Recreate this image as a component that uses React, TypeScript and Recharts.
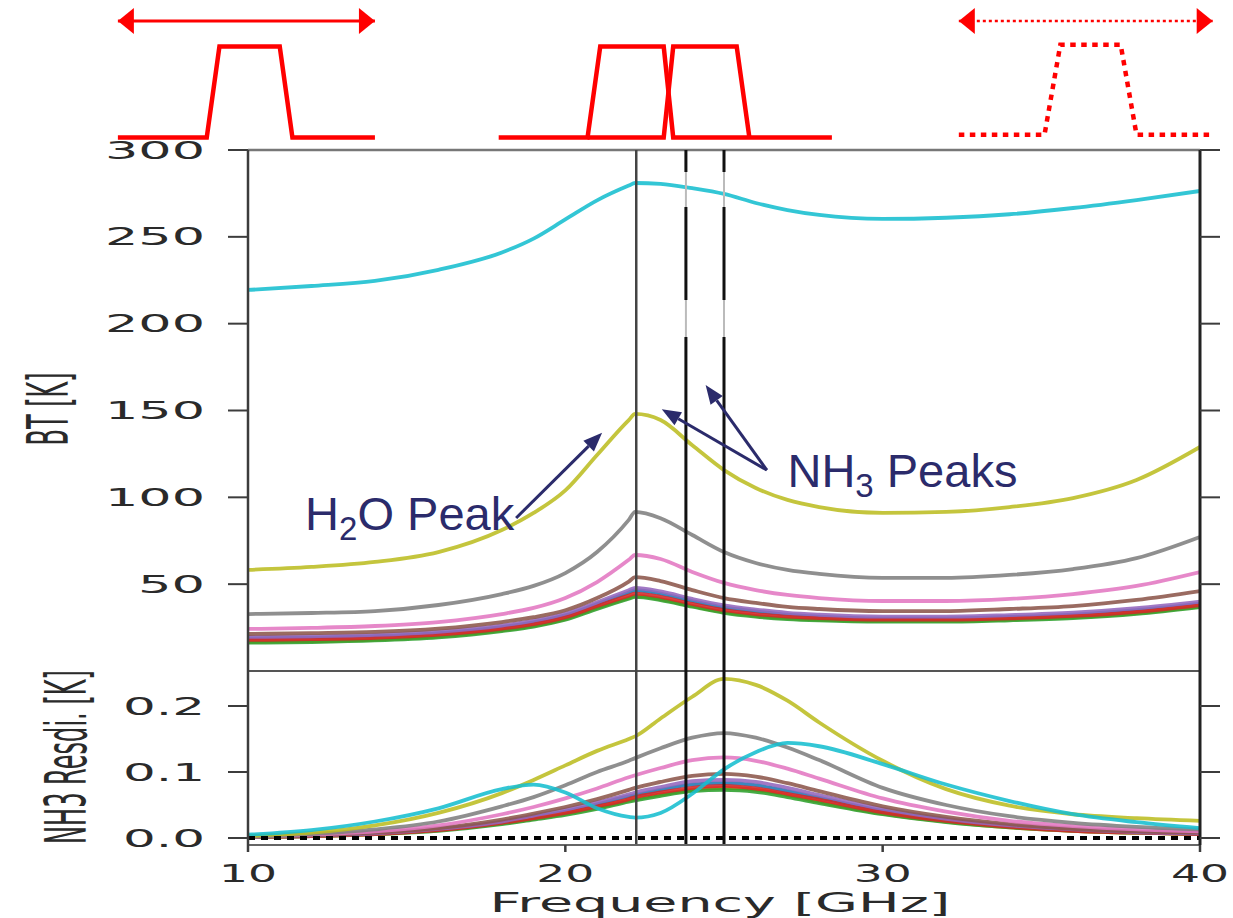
import React from 'react';
import { LineChart, Line, XAxis, YAxis, ReferenceLine, ReferenceDot } from 'recharts';

// ---------- data ----------
const FREQ = [10, 12, 14, 16, 18, 19, 20, 21, 22, 22.2, 23, 24, 25, 26, 27, 28, 30, 32, 34, 36, 38, 40];

const BT_BLUE = [18.8, 19.2, 20, 21.8, 25.3, 28, 32, 38.5, 45.2, 46.5, 44.6, 40.3, 36.6, 34.3, 32.4, 31.3, 30.3, 30.3, 31.1, 32.5, 35, 38.8];
const BT_ORANGE = [16.8, 17.2, 18.1, 19.9, 23.5, 26.1, 30, 36.4, 42.2, 43.3, 41.4, 37.5, 34, 31.8, 30.4, 29.6, 28.9, 28.9, 29.7, 31, 33.4, 37.3];
const BT_GREEN = [16.3, 16.7, 17.6, 19.4, 23, 25.6, 29.5, 35.8, 41.6, 42.7, 40.8, 37, 33.5, 31.3, 29.9, 29.1, 28.4, 28.4, 29.2, 30.5, 32.9, 36.8];
const BT_RED = [17.9, 18.3, 19.1, 20.9, 24.4, 27, 31, 37.4, 43.4, 44.5, 42.7, 38.6, 35, 32.8, 31.3, 30.5, 29.6, 29.6, 30.3, 31.7, 34.1, 38];
const BT_PURPLE = [19.6, 20, 20.8, 22.6, 26.2, 29, 33, 39.5, 46.5, 47.8, 45.8, 41.5, 37.8, 35.4, 33.5, 32.4, 31.3, 31.3, 32.2, 33.6, 36.2, 40];
const BT_BROWN = [21.3, 21.8, 22.5, 24.4, 28.2, 31, 35, 42, 51.5, 54, 51.8, 46.6, 42, 39.2, 36.9, 35.7, 34.5, 34.5, 35.7, 37.4, 40.9, 46];
const BT_PINK = [24.2, 24.8, 25.9, 28.2, 32.8, 36.3, 42, 51.2, 64, 66.8, 64.5, 57, 50.7, 46.6, 43.8, 42, 40.3, 40.3, 41.5, 44.3, 49, 57];
const BT_GRAY = [32.8, 33.4, 34.5, 38, 44.3, 49, 56.4, 68.5, 87, 91.6, 88, 78.3, 68.5, 62.2, 58.2, 55.9, 53.6, 53.6, 55.3, 58.7, 65, 77.2];
const BT_OLIVE = [58.2, 59.9, 62.8, 68.5, 81.2, 91, 104, 124.4, 144.5, 148, 144.5, 130, 115.7, 105.4, 98.5, 94.4, 91, 91.6, 94.4, 99.6, 110, 129];
const BT_CYAN = [219.4, 221.7, 224.6, 231, 241, 249, 260, 271, 279.5, 281, 280.5, 278, 274.7, 269.5, 265.4, 262.6, 260.3, 261, 263, 266.6, 271.2, 276.4];

const RES_BLUE = [0.002, 0.003, 0.007, 0.013, 0.024, 0.032, 0.040, 0.051, 0.063, 0.065, 0.073, 0.081, 0.083, 0.080, 0.071, 0.061, 0.041, 0.028, 0.018, 0.012, 0.009, 0.007];
const RES_ORANGE = [0.002, 0.003, 0.006, 0.012, 0.022, 0.029, 0.037, 0.046, 0.057, 0.059, 0.066, 0.073, 0.076, 0.073, 0.065, 0.055, 0.037, 0.025, 0.016, 0.011, 0.008, 0.006];
const RES_GREEN = [0.002, 0.003, 0.006, 0.011, 0.021, 0.028, 0.035, 0.044, 0.055, 0.057, 0.064, 0.071, 0.073, 0.070, 0.062, 0.053, 0.036, 0.024, 0.016, 0.011, 0.008, 0.006];
const RES_RED = [0.002, 0.003, 0.006, 0.012, 0.023, 0.030, 0.038, 0.048, 0.059, 0.062, 0.069, 0.076, 0.079, 0.075, 0.067, 0.058, 0.039, 0.026, 0.017, 0.011, 0.008, 0.006];
const RES_PURPLE = [0.002, 0.004, 0.007, 0.014, 0.025, 0.034, 0.043, 0.054, 0.066, 0.069, 0.077, 0.086, 0.088, 0.085, 0.076, 0.065, 0.044, 0.029, 0.019, 0.013, 0.009, 0.007];
const RES_BROWN = [0.002, 0.004, 0.008, 0.015, 0.028, 0.037, 0.047, 0.059, 0.073, 0.076, 0.085, 0.094, 0.097, 0.093, 0.083, 0.071, 0.048, 0.032, 0.021, 0.014, 0.010, 0.008];
const RES_PINK = [0.002, 0.005, 0.010, 0.019, 0.036, 0.047, 0.060, 0.075, 0.092, 0.095, 0.106, 0.118, 0.122, 0.117, 0.105, 0.090, 0.060, 0.040, 0.026, 0.018, 0.013, 0.010];
const RES_GRAY = [0.002, 0.006, 0.013, 0.025, 0.048, 0.062, 0.080, 0.100, 0.117, 0.121, 0.136, 0.152, 0.159, 0.152, 0.137, 0.118, 0.076, 0.050, 0.033, 0.023, 0.017, 0.013];
const RES_OLIVE = [0.003, 0.008, 0.019, 0.038, 0.068, 0.088, 0.110, 0.132, 0.150, 0.154, 0.181, 0.214, 0.241, 0.232, 0.208, 0.175, 0.117, 0.074, 0.049, 0.036, 0.030, 0.026];
const RES_CYAN = [0.005, 0.012, 0.025, 0.045, 0.074, 0.081, 0.069, 0.045, 0.032, 0.031, 0.038, 0.067, 0.104, 0.130, 0.144, 0.139, 0.112, 0.081, 0.056, 0.036, 0.024, 0.015];

const BT_TICKS = [50, 100, 150, 200, 250, 300];
const RES_TICKS = [0, 0.1, 0.2];
const X_TICKS = [10, 20, 30, 40];
const LINE_FREQS = [22.235, 23.8, 25.0]; // H2O line, two NH3 lines

// passband schematic (frequency-like units, relative response)
const SCH_LEFT_F = [5.9, 8.7, 9.1, 11.0, 11.4, 14.0];
const SCH_LEFT_R = [0, 0, 1, 1, 0, 0];
const SCH_MID_A_F = [17.9, 20.7, 21.1, 23.1, 23.4, 28.4];
const SCH_MID_A_R = [0, 0, 1, 1, 0, 0];
const SCH_MID_B_F = [20.7, 23.1, 23.4, 25.4, 25.8];
const SCH_MID_B_R = [0, 0, 1, 1, 0];
const SCH_RIGHT_F = [32.4, 35.1, 35.6, 37.5, 38.0, 40.4];
const SCH_RIGHT_R = [0.03, 0.03, 1.02, 1.02, 0.03, 0.03];
const SCH_ARROW_LEFT_F = [5.9, 14.0];
const SCH_ARROW_RIGHT_F = [32.4, 40.4];
const SCH_ARROW_R = 1.28;

// annotations (data coordinates: GHz, K)
const H2O_TEXT_AT = { f: 11.8, bt: 81 };
const NH3_TEXT_AT = { f: 27.0, bt: 106 };
const H2O_ARROW = [{ x: 18.45, y: 88.1 }, { x: 21.16, y: 137.2 }];
const NH3_ARROW_1 = [{ x: 26.35, y: 115.7 }, { x: 23.04, y: 150.7 }];
const NH3_ARROW_2 = [{ x: 26.35, y: 115.7 }, { x: 24.42, y: 164.7 }];

// ---------- styling ----------
const SERIES = [
  { key: 'blue', color: '#1f77b4', bt: BT_BLUE, res: RES_BLUE },
  { key: 'orange', color: '#ff7f0e', bt: BT_ORANGE, res: RES_ORANGE },
  { key: 'green', color: '#2ca02c', bt: BT_GREEN, res: RES_GREEN },
  { key: 'red', color: '#d62728', bt: BT_RED, res: RES_RED },
  { key: 'purple', color: '#9467bd', bt: BT_PURPLE, res: RES_PURPLE },
  { key: 'brown', color: '#8c564b', bt: BT_BROWN, res: RES_BROWN },
  { key: 'pink', color: '#e377c2', bt: BT_PINK, res: RES_PINK },
  { key: 'gray', color: '#7f7f7f', bt: BT_GRAY, res: RES_GRAY },
  { key: 'olive', color: '#bcbd22', bt: BT_OLIVE, res: RES_OLIVE },
  { key: 'cyan', color: '#17becf', bt: BT_CYAN, res: RES_CYAN },
];

const topRows = FREQ.map((f, i) => {
  const r: any = { f };
  SERIES.forEach((s) => { r[s.key] = s.bt[i]; });
  return r;
});
const botRows = FREQ.map((f, i) => {
  const r: any = { f };
  SERIES.forEach((s) => { r[s.key] = s.res[i]; });
  return r;
});

// schematic rows: one table, each shape in its own column
const SCH_SHAPES: [string, number[], number[]][] = [
  ['left', SCH_LEFT_F, SCH_LEFT_R],
  ['midA', SCH_MID_A_F, SCH_MID_A_R],
  ['midB', SCH_MID_B_F, SCH_MID_B_R],
  ['right', SCH_RIGHT_F, SCH_RIGHT_R],
  ['arrL', SCH_ARROW_LEFT_F, SCH_ARROW_LEFT_F.map(() => SCH_ARROW_R)],
  ['arrR', SCH_ARROW_RIGHT_F, SCH_ARROW_RIGHT_F.map(() => SCH_ARROW_R)],
];
const schRows: any[] = [];
SCH_SHAPES.forEach(([k, fs, rs]) => fs.forEach((f, i) => schRows.push({ f, [k]: rs[i] })));
schRows.sort((a, b) => a.f - b.f);

const NAVY = '#2b2b6b';
const AXIS = '#3c3c3c';
const TXT = '#2a2a2a';
const RED = '#ff0000';
const FONT = 'DejaVu Sans';

const YTick = (props: any) => {
  const { x, y, payload, fmt, lens } = props;
  const s = fmt(payload.value);
  return (
    <text x={x} y={y} dy="0.36em" textAnchor="end" fontFamily={FONT} fontSize={24} fill={TXT}
      textLength={lens[s.length] || 100} lengthAdjust="spacingAndGlyphs">{s}</text>
  );
};

const XTick = (props: any) => {
  const { x, y, payload } = props;
  return (
    <text x={x} y={y + 28} textAnchor="middle" fontFamily={FONT} fontSize={24} fill={TXT}
      textLength={58} lengthAdjust="spacingAndGlyphs">{String(payload.value)}</text>
  );
};

const NoTick = () => <g />;

const RotTitle = ({ tx, ty, text, len }: any) => (
  <g transform={`translate(${tx},${ty})`}>
    <g transform="rotate(-90)">
      <g transform="scale(1,2.4)">
        <text x={0} y={0} textAnchor="middle" fontFamily={FONT} fontSize={24} fill={TXT}
          textLength={len} lengthAdjust="spacingAndGlyphs">{text}</text>
      </g>
    </g>
  </g>
);

const XTitle = () => (
  <text x={720} y={252} textAnchor="middle" fontFamily={FONT} fontSize={26} fill={TXT}
    textLength={461} lengthAdjust="spacingAndGlyphs">Frequency [GHz]</text>
);

const ArrowShape = (p: any) => {
  const { x1, y1, x2, y2 } = p;
  const dx = x2 - x1, dy = y2 - y1;
  const L = Math.hypot(dx, dy) || 1;
  const ux = dx / L, uy = dy / L;
  const hl = 19, hw = 7.5;
  const bx = x2 - ux * hl, by = y2 - uy * hl;
  const pts = `${x2},${y2} ${bx - uy * hw},${by + ux * hw} ${bx + uy * hw},${by - ux * hw}`;
  return (
    <g>
      <line x1={x1} y1={y1} x2={bx} y2={by} stroke={NAVY} strokeWidth={3} />
      <polygon points={pts} fill={NAVY} />
    </g>
  );
};

const H2OLabel = (p: any) => (
  <text x={p.cx} y={p.cy} fontFamily="Liberation Sans, Arial" fontSize={47} fill={NAVY}>
    H<tspan dy={10} fontSize={33}>2</tspan><tspan dy={-10}>O Peak</tspan>
  </text>
);
const NH3Label = (p: any) => (
  <text x={p.cx} y={p.cy} fontFamily="Liberation Sans, Arial" fontSize={47} fill={NAVY}>
    NH<tspan dy={10} fontSize={33}>3</tspan><tspan dy={-10}> Peaks</tspan>
  </text>
);

const headShape = (dir: number) => (p: any) => {
  const { cx, cy } = p;
  const pts = `${cx},${cy} ${cx + dir * 16},${cy - 13} ${cx + dir * 16},${cy + 13}`;
  return <polygon points={pts} fill={RED} />;
};
const HeadLeft = headShape(1);
const HeadRight = headShape(-1);

const lineCommon = { type: 'monotone' as const, strokeWidth: 3.8, strokeOpacity: 0.88, dot: false, activeDot: false, isAnimationActive: false };

export default function App() {
  return (
    <div style={{ position: 'absolute', left: 0, top: 0, width: 1233, height: 918, background: '#fff', overflow: 'hidden' }}>
      {/* passband schematic */}
      <div style={{ position: 'absolute', left: 0, top: 0 }}>
        <LineChart width={1233} height={140} data={schRows} margin={{ top: 0, right: 0, bottom: 0, left: 0 }}>
          <XAxis dataKey="f" type="number" domain={[2.185, 41.04]} hide allowDataOverflow />
          <YAxis domain={[-0.0275, 1.511]} hide allowDataOverflow />
          <Line dataKey="left" type="linear" connectNulls stroke={RED} strokeWidth={4.5} dot={false} activeDot={false} isAnimationActive={false} />
          <Line dataKey="midA" type="linear" connectNulls stroke={RED} strokeWidth={4.5} dot={false} activeDot={false} isAnimationActive={false} />
          <Line dataKey="midB" type="linear" connectNulls stroke={RED} strokeWidth={4.5} dot={false} activeDot={false} isAnimationActive={false} />
          <Line dataKey="right" type="linear" connectNulls stroke={RED} strokeWidth={4.5} strokeDasharray="5.5 5.5" dot={false} activeDot={false} isAnimationActive={false} />
          <Line dataKey="arrL" type="linear" connectNulls stroke={RED} strokeWidth={3} dot={false} activeDot={false} isAnimationActive={false} />
          <Line dataKey="arrR" type="linear" connectNulls stroke={RED} strokeWidth={2.5} strokeDasharray="3 3" dot={false} activeDot={false} isAnimationActive={false} />
          <ReferenceDot x={SCH_ARROW_LEFT_F[0]} y={SCH_ARROW_R} r={0} shape={HeadLeft} />
          <ReferenceDot x={SCH_ARROW_LEFT_F[1]} y={SCH_ARROW_R} r={0} shape={HeadRight} />
          <ReferenceDot x={SCH_ARROW_RIGHT_F[0]} y={SCH_ARROW_R} r={0} shape={HeadLeft} />
          <ReferenceDot x={SCH_ARROW_RIGHT_F[1]} y={SCH_ARROW_R} r={0} shape={HeadRight} />
        </LineChart>
      </div>

      {/* main BT panel */}
      <div style={{ position: 'absolute', left: 0, top: 120 }}>
        <LineChart width={1233} height={560} data={topRows} margin={{ top: 30, right: 13, bottom: 9, left: 0 }}>
          <XAxis dataKey="f" type="number" domain={[10, 40]} hide allowDataOverflow />
          <YAxis yAxisId="l" domain={[0, 300]} ticks={BT_TICKS} interval={0} width={248} tickSize={20} tickMargin={23}
            allowDataOverflow axisLine={{ stroke: AXIS, strokeWidth: 2.5 }} tickLine={{ stroke: AXIS, strokeWidth: 2 }}
            tick={(p: any) => <YTick {...p} fmt={(v: number) => String(v)} lens={{ 2: 67, 3: 100 }} />}
            label={<RotTitle tx={68} ty={289} text="BT [K]" len={73} />} />
          <YAxis yAxisId="r" orientation="right" domain={[0, 300]} ticks={BT_TICKS} interval={0} width={20} tickSize={20}
            allowDataOverflow axisLine={{ stroke: '#222', strokeWidth: 3 }} tickLine={{ stroke: AXIS, strokeWidth: 2 }} tick={NoTick} />
          <ReferenceLine yAxisId="l" y={300} stroke="#777" strokeWidth={2.5} />
          <ReferenceLine yAxisId="l" y={0} stroke="#555" strokeWidth={2} />
          {SERIES.map((s) => (
            <Line key={s.key} yAxisId="l" dataKey={s.key} stroke={s.color} {...lineCommon} />
          ))}
          <ReferenceLine yAxisId="l" x={LINE_FREQS[0]} stroke="#444" strokeWidth={2.5} />
          <ReferenceLine yAxisId="l" x={LINE_FREQS[1]} stroke="#bbb" strokeWidth={2} />
          <ReferenceLine yAxisId="l" x={LINE_FREQS[2]} stroke="#bbb" strokeWidth={2} />
          <ReferenceLine yAxisId="l" x={LINE_FREQS[1]} stroke="#111" strokeWidth={3} strokeDasharray="334 37 93 35 40" />
          <ReferenceLine yAxisId="l" x={LINE_FREQS[2]} stroke="#111" strokeWidth={3} strokeDasharray="334 37 93 35 40" />
          <ReferenceLine yAxisId="l" segment={H2O_ARROW} shape={ArrowShape} />
          <ReferenceLine yAxisId="l" segment={NH3_ARROW_1} shape={ArrowShape} />
          <ReferenceLine yAxisId="l" segment={NH3_ARROW_2} shape={ArrowShape} />
          <ReferenceDot yAxisId="l" x={H2O_TEXT_AT.f} y={H2O_TEXT_AT.bt} r={0} shape={H2OLabel} />
          <ReferenceDot yAxisId="l" x={NH3_TEXT_AT.f} y={NH3_TEXT_AT.bt} r={0} shape={NH3Label} />
        </LineChart>
      </div>

      {/* NH3 residual panel */}
      <div style={{ position: 'absolute', left: 0, top: 660 }}>
        <LineChart width={1233} height={258} data={botRows} margin={{ top: 11, right: 13, bottom: 0, left: 0 }}>
          <XAxis dataKey="f" type="number" domain={[10, 40]} ticks={X_TICKS} interval={0} height={73} tickSize={7} tickMargin={2}
            allowDataOverflow axisLine={{ stroke: '#666', strokeWidth: 2 }} tickLine={{ stroke: AXIS, strokeWidth: 2.5 }}
            tick={XTick} label={<XTitle />} />
          <YAxis yAxisId="l" domain={[-0.0106, 0.253]} ticks={RES_TICKS} interval={0} width={248} tickSize={20} tickMargin={23}
            allowDataOverflow axisLine={{ stroke: AXIS, strokeWidth: 2.5 }} tickLine={{ stroke: AXIS, strokeWidth: 2 }}
            tick={(p: any) => <YTick {...p} fmt={(v: number) => v.toFixed(1)} lens={{ 3: 82 }} />}
            label={<RotTitle tx={86} ty={97} text="NH3 Resdi. [K]" len={174} />} />
          <YAxis yAxisId="r" orientation="right" domain={[-0.0106, 0.253]} ticks={RES_TICKS} interval={0} width={20} tickSize={20}
            allowDataOverflow axisLine={{ stroke: '#222', strokeWidth: 3 }} tickLine={{ stroke: AXIS, strokeWidth: 2 }} tick={NoTick} />
          {SERIES.map((s) => (
            <Line key={s.key} yAxisId="l" dataKey={s.key} stroke={s.color} {...lineCommon} />
          ))}
          <ReferenceLine yAxisId="l" y={0} stroke="#000" strokeWidth={4} strokeDasharray="7 6" />
          <ReferenceLine yAxisId="l" x={LINE_FREQS[0]} stroke="#444" strokeWidth={2.5} />
          <ReferenceLine yAxisId="l" x={LINE_FREQS[1]} stroke="#111" strokeWidth={3} />
          <ReferenceLine yAxisId="l" x={LINE_FREQS[2]} stroke="#111" strokeWidth={3} />
        </LineChart>
      </div>
    </div>
  );
}
